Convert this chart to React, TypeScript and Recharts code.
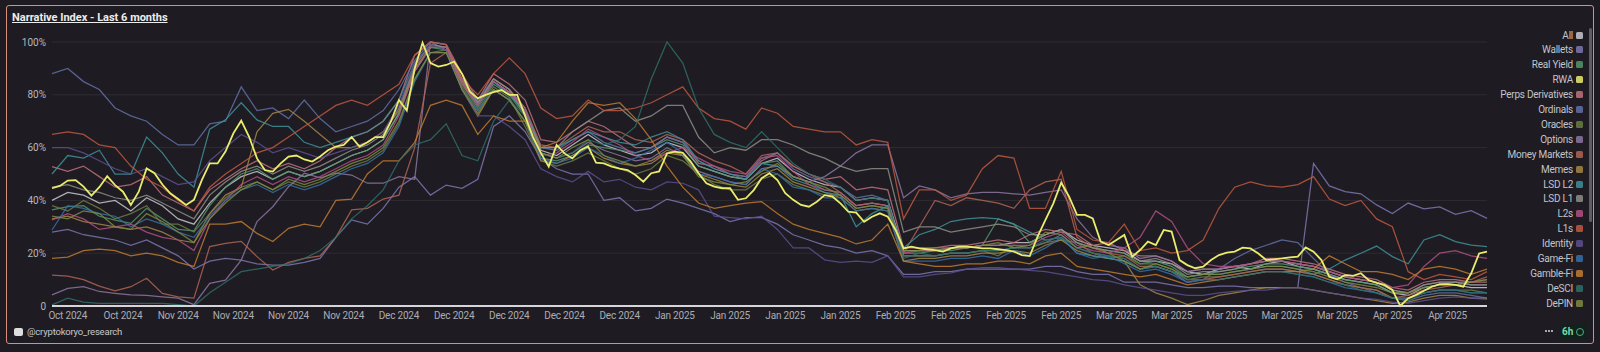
import React from "react";
import { LineChart, Line, XAxis, YAxis, CartesianGrid } from "recharts";

// x positions: day index counted from 18 Oct 2024 (day 0) to 18 Apr 2025 (day 182)
const tickDays = [2, 9, 16, 23, 30, 37, 44, 51, 58, 65, 72, 79, 86, 93, 100, 107, 114, 121, 128, 135, 142, 149, 156, 163, 170, 177];
const tickLabels = [
  "Oct 2024", "Oct 2024", "Nov 2024", "Nov 2024", "Nov 2024", "Nov 2024",
  "Dec 2024", "Dec 2024", "Dec 2024", "Dec 2024", "Dec 2024",
  "Jan 2025", "Jan 2025", "Jan 2025", "Jan 2025",
  "Feb 2025", "Feb 2025", "Feb 2025", "Feb 2025",
  "Mar 2025", "Mar 2025", "Mar 2025", "Mar 2025", "Mar 2025",
  "Apr 2025", "Apr 2025",
];
const yTicks = [0, 20, 40, 60, 80, 100];

// RWA: one value per day (day 0..182)
const rwa = [
  44.6, 45.5, 47.5, 47.7, 45.2, 41.8, 45, 49.2, 45.8, 43.3,
  38.3, 43.3, 52.1, 50.3, 46, 42.7, 40.5, 38.3, 40.2, 47.7,
  54, 54, 58.5, 65.4, 70.2, 64.1, 55.9, 51.5, 50.9, 54,
  56.6, 57, 55.5, 54.7, 56.6, 59, 60.4, 61, 64, 60.4,
  62, 64, 64, 70, 78, 74, 90, 99.7, 92, 90.7,
  91.3, 92.6, 88, 81.2, 78.7, 80, 81, 81.8, 80, 80,
  72, 64, 58, 52.8, 61, 57.8, 55.9, 59, 60.4, 54.3,
  54, 52.8, 52, 51.5, 49.6, 47.1, 50.3, 51, 57.8, 58.5,
  58, 54.7, 50.3, 46.5, 45.2, 44.6, 44.6, 40.2, 40.8, 43.9,
  48.4, 50.3, 47.7, 42.7, 40.2, 38.3, 37.6, 39.5, 42, 41.4,
  38.9, 35.7, 35.4, 31.9, 33.8, 35.1, 33.8, 28.8, 21.8, 22.5,
  21.8, 21.5, 21.2, 20.6, 21.8, 22.5, 22.5, 22.2, 21.8, 21.8,
  21.5, 21.2, 20.6, 19.3, 18.9, 26.3, 32.6, 38.9, 46.7, 41.4,
  34.5, 34.5, 33.2, 24.4, 23.1, 25, 26.9, 18.7, 21.2, 24.4,
  23.1, 28.8, 28.2, 17.4, 15.5, 14.3, 14.9, 17.4, 19.3, 20.2,
  20.6, 22.1, 21.8, 19.9, 17.4, 17.7, 18, 18.4, 18.7, 22.2,
  20.6, 17.4, 11.1, 10.1, 11.7, 11.4, 12.4, 9.8, 8.8, 8,
  6.1, 0, 2.9, 4.2, 5.8, 7.3, 8.3, 8.3, 8, 7.3,
  12.4, 19.9, 20.6,
];

// Other narratives: one value every 2 days (day 0, 2, ..., 182)
const allVals = [
  40, 43, 42, 39, 40, 36, 41, 38, 33, 31,
  39, 45, 49, 51, 48, 51, 49, 51, 54, 57,
  59, 63, 73, 89, 98, 98, 85, 76, 85, 81,
  73, 59, 57, 61, 65, 61, 59, 57, 58, 62,
  60, 53, 51, 49, 48, 54, 56, 51, 48, 46,
  45, 40, 41, 40, 21, 21, 21, 22, 22, 23,
  23, 24, 24, 27, 29, 25, 23, 22, 21, 17,
  17, 16, 13, 12, 14, 15, 14, 16, 17, 15,
  14, 12, 10, 9, 8, 5, 4, 7, 8, 8,
  7, 7,
];
const wallets = [
  28, 29, 27, 26, 25, 23, 25, 22, 19, 14,
  17, 18, 17.4, 16, 15.5, 15.5, 16.5, 18, 26, 32.6,
  31, 37, 45, 49, 42, 45.8, 44.6, 48, 68, 72,
  66, 56, 52, 50, 50, 40, 41, 36, 37, 40.5,
  39, 37, 35, 32, 33.5, 33.5, 31, 27, 25, 23,
  22, 20, 21, 19, 12, 12, 13, 13, 14, 14,
  14, 14, 14, 15, 15, 13, 12, 12, 9, 9,
  9, 8, 7, 7, 7.5, 7.5, 7, 7, 7, 7,
  54, 45.5, 43.3, 42.5, 38.3, 35, 39, 36.8, 37.5, 34.7,
  36.1, 33.2,
];
const realYield = [
  36.4, 37.6, 38, 34, 32.5, 31.3, 37, 33, 29, 28.5,
  38, 45, 50, 52, 48, 51, 49, 51, 54, 57,
  59, 63, 73, 89, 98, 97, 84, 75, 84, 80,
  72, 56, 55, 57, 61, 60, 59, 58, 60, 63,
  61, 53, 51, 49, 48, 54, 55, 49, 47, 44,
  43, 38, 39, 38, 20, 20, 21, 21, 22, 23,
  33, 31, 24, 27, 29, 24, 22, 21, 20, 16,
  17, 15, 11, 12, 13, 14, 15, 16, 16, 15,
  14, 12, 10, 9, 8, 5, 5, 7, 8, 9,
  9, 10,
];
const perps = [
  52.8, 51, 53, 49, 45, 46, 49, 42, 39, 36,
  44, 48, 52, 55, 52, 54, 52, 55, 60, 64,
  66, 70, 78, 95, 100, 99, 88, 78, 88, 84,
  78, 63, 62, 66, 70, 68, 64, 60, 60, 64,
  62, 54, 53, 50, 49, 55, 58, 53, 50, 48,
  49, 44, 45, 44, 22, 22, 22, 23, 23, 24,
  25, 24, 27, 29, 28, 27, 23, 24, 21, 19,
  19, 17, 13, 14, 14, 15, 16, 18, 18, 17,
  16, 14, 12, 11, 10, 7, 6, 9, 10, 10,
  9, 9,
];
const ordinals = [
  88, 90, 85, 82, 75, 72, 70, 65, 61, 61,
  69, 70, 83, 74, 75, 71, 78, 71, 66, 68,
  70, 74, 82, 93, 100, 99, 86, 78, 86, 82,
  75, 60, 59, 63, 66, 62, 60, 58, 60, 64,
  62, 55, 52, 50, 49, 56, 58, 52, 49, 47,
  45, 41, 42, 40, 19, 19, 19, 20, 20, 21,
  21, 22, 22, 24, 27, 22, 20, 19, 18, 14,
  15, 13, 9, 10, 14, 18, 21, 23, 25, 24,
  18, 12, 9, 7, 5, 3, 2, 4, 5, 5,
  4, 3,
];
const oracles = [
  38, 36, 40, 37, 33, 35, 38, 31, 31, 28,
  35, 41, 45, 47, 44, 47, 45, 47, 50, 53,
  55, 59, 69, 86, 96, 97, 83, 74, 83, 79,
  68, 55, 53, 55, 58, 55, 52, 50, 52, 57,
  55, 50, 46, 44, 44, 48, 50, 46, 44, 42,
  42, 37, 38, 37, 19, 19, 19, 20, 20, 21,
  19, 23, 22, 24, 25, 24, 20, 18, 19, 16,
  16, 14, 10, 11, 11, 12, 13, 14, 14, 13,
  12, 10, 8, 7, 6, 3, 3, 5, 6, 6,
  6, 5,
];
const options = [
  4.2, 6.7, 7.3, 5.5, 4.8, 4.2, 4, 3.5, 3, 0.5,
  8.6, 9.8, 17.4, 32, 37.6, 45.2, 50.3, 48.5, 50.3, 49.6,
  46.5, 46.5, 49, 48, 100, 97, 85, 77, 85, 81,
  74, 58, 56, 58, 62, 59, 57, 55, 56, 60,
  57, 51, 49, 47, 46, 52, 53, 49, 47, 49,
  53, 58, 61, 61, 41, 45.5, 44, 41, 42.5, 43,
  43, 42.5, 42, 43, 44, 33, 26, 23, 22, 18,
  19, 17, 13, 14, 14, 15, 16, 17, 17, 16,
  15, 13, 11, 10, 9, 6, 5, 8, 9, 9,
  8, 8,
];
const moneyMarkets = [
  11.7, 11.3, 10, 7.5, 5.7, 7.3, 10.5, 4.8, 3.5, 3,
  22.5, 23.7, 24.5, 18.7, 13.6, 16.5, 18, 19, 26, 36.4,
  37, 40.5, 42, 60, 92, 96, 84, 76, 86, 82,
  75, 61, 60, 64, 68, 66, 66, 63, 62, 65,
  63, 58, 55, 53, 50, 57, 58, 53, 50, 47,
  43, 38, 39, 38, 20, 30, 40, 38, 41, 40,
  39, 37, 44, 47, 48, 26, 22, 20, 19, 15,
  15, 13, 10, 10, 11, 12, 13, 14, 14, 13,
  12, 10, 8, 7, 6, 3, 4, 6, 7, 8,
  9, 11,
];
const memes = [
  33, 34, 32, 31, 30, 29, 30, 28, 25, 24,
  35, 42, 45, 66, 73, 74.5, 70, 65, 60, 60,
  62, 66, 74, 90, 98, 98, 82, 72, 82, 78,
  70, 55, 54, 57, 60, 56, 54, 53, 54, 58,
  57, 50, 48, 46, 45, 50, 52, 47, 45, 43,
  41, 36, 37, 36, 17, 18, 18, 19, 19, 20,
  20, 21, 20, 23, 25, 21, 19, 18, 17, 8,
  5, 3, 0.5, 2, 4, 5, 6, 7, 7, 7,
  6, 5, 4, 3, 2, 1, 1.5, 3, 4, 4,
  3, 3,
];
const lsdL2 = [
  50, 57, 56, 59, 50, 50, 64, 58, 50, 45,
  67, 70.5, 77, 70.5, 68, 68, 62, 60, 62, 64,
  66, 70, 78, 92, 99, 98, 86, 76, 85, 80,
  74, 60, 60, 63, 66, 64, 62, 61, 64, 66,
  63, 55, 52, 50, 48, 54, 53, 48, 46, 43,
  42, 30, 35, 38, 22, 27, 29, 32, 33, 33.5,
  33, 31, 28, 25, 26, 20, 19, 18, 17, 14,
  15, 13, 11, 12, 12, 13, 14, 15, 15, 14,
  12, 14, 17.4, 20, 22.7, 18.7, 16, 25, 27, 24.4,
  23.1, 22.5,
];
const lsdL1 = [
  45, 46, 44, 43, 41, 40, 42, 39, 36, 33,
  42, 47, 51, 53, 50, 53, 51, 53, 56, 59,
  61, 65, 75, 91, 99, 98, 86, 77, 86, 82,
  73, 60, 60, 66, 70, 74, 75, 70, 72, 76,
  76, 64, 58, 60, 59, 63, 63, 61, 58, 56,
  53, 51, 52, 52, 28, 30, 30, 28, 29, 30,
  31, 30, 27, 27, 29, 24, 22, 21, 20, 17,
  18, 16, 12, 13, 13, 14, 16, 17, 17, 16,
  15, 13, 11, 10, 9, 6, 5, 8, 9, 9,
  8, 8,
];
const l2s = [
  32.6, 35, 33, 29, 30, 31, 28, 26, 25, 21,
  33, 40, 46, 49, 46, 49, 47, 49, 52, 55,
  57, 61, 72, 89, 98, 98, 85, 76, 85, 81,
  74, 57, 58, 62, 67, 64, 61, 57, 55, 58,
  60, 56, 53, 51, 50, 56, 57, 51, 46, 44,
  43, 38, 39, 38, 20, 21, 21, 22, 22, 23,
  23, 23, 23, 26, 28, 23, 21, 20, 22, 26,
  36, 32, 22, 16, 15, 15, 16, 17, 17, 16,
  15, 13, 11, 10, 9, 7, 8, 15, 20, 21,
  19, 18,
];
const l1s = [
  65, 66, 65, 61, 60, 53, 48, 45, 40, 36,
  45, 50, 54, 58, 60, 64, 68, 72, 76, 78,
  76, 80, 84, 95, 100, 99, 86, 80, 88, 94,
  88, 75, 71, 72, 78, 74, 74, 75, 77, 80,
  83, 75, 71, 70, 67, 75, 73, 68, 67, 66,
  66, 61, 63, 62, 33, 44, 44, 40, 42, 52,
  57, 56, 37, 37, 51, 29, 25, 24, 31, 21,
  22, 20, 21, 25, 37, 45, 47, 45.5, 45, 46,
  49, 40.5, 38, 40, 33, 30, 13, 10, 12, 11,
  10, 13,
];
const identity = [
  60, 60, 58, 55, 52, 50, 52, 49, 46, 47,
  55, 60, 65, 62, 58, 60, 58, 56, 58, 60,
  62, 66, 76, 92, 99, 97, 82, 72, 72, 68,
  63, 52, 49, 47, 51, 47, 48, 45, 44, 47,
  46.5, 44, 34, 33.5, 33, 34, 29, 22, 22, 17.5,
  16.5, 17, 16.5, 19, 11, 11, 12, 12.5, 14, 14.5,
  14.5, 14, 13.5, 13, 12, 11, 10, 9.5, 8, 7,
  6, 5, 4, 4, 5, 5.5, 6, 6, 7, 7,
  6, 5, 4, 3, 2.5, 1.5, 1, 2, 3, 3.5,
  3, 2.5,
];
const gameFi = [
  28.8, 38, 37, 35, 34, 30, 33, 31, 28, 26,
  34, 40, 44, 46, 43, 46, 44, 46, 49, 52,
  54, 58, 68, 85, 96, 96, 82, 74, 82, 78,
  70, 56, 54, 56, 60, 57, 54, 56, 59, 62,
  58, 50, 49, 47, 46, 52, 50, 45, 44, 41,
  41, 36, 37, 36, 17, 17, 17, 18, 18, 19,
  18, 21, 19, 22, 26, 20, 18, 19, 16, 13,
  14, 12, 9, 10, 10, 11, 12, 13, 13, 12,
  11, 9, 7, 6, 5, 3, 3, 5, 6, 6,
  5, 5,
];
const gambleFi = [
  18, 18.5, 21, 21.5, 21, 19, 20, 19, 16.5, 15,
  31, 31, 32, 27.5, 24.4, 29.4, 31, 30, 40, 40.5,
  50, 55, 55, 62, 76, 78, 76, 65, 72, 70,
  70, 60, 62, 70, 77, 76, 77, 71, 63, 53,
  45, 39, 37, 38, 39, 39.5, 35, 31, 29, 27.5,
  26, 23.5, 25, 31, 17, 16, 15, 15, 16, 16,
  17, 17, 16, 19, 20, 15, 14, 13, 12, 11,
  12, 10, 8, 9, 10, 11, 12, 13, 13, 13,
  14, 19, 16, 13, 13, 12, 10, 14, 15, 14,
  12, 14,
];
const deSci = [
  0.4, 3, 1.5, 1, 1, 1, 1, 1, 0.5, 0,
  5, 9, 13, 14, 15, 16, 18, 21, 26, 33,
  38, 44, 55, 61, 63, 69, 57, 55, 70, 78,
  72, 58, 56, 58, 63, 61, 63, 68, 86, 100,
  92, 75, 65, 62, 60, 66, 60, 54, 50, 48,
  45, 40, 41, 40, 18, 20, 19, 20, 20, 21,
  21, 22, 22, 25, 26, 22, 20, 19, 18, 14,
  15, 13, 10, 10, 10, 11, 12, 13, 13, 12,
  11, 9, 8, 6, 5, 3, 2, 5, 6, 6,
  5, 5,
];
const dePin = [
  34, 33, 36, 35, 30, 29, 35, 32, 28, 24,
  33, 39, 44, 47, 44, 48, 46, 48, 51, 54,
  56, 60, 70, 86, 96, 96, 82, 73, 82, 78,
  70, 58, 56, 60, 63, 57, 55, 53, 55, 59,
  57, 49, 47, 46, 47, 51, 54, 49, 47, 45,
  42, 37, 38, 37, 21, 21, 22, 22, 22, 23,
  24, 22, 23, 28, 27, 22, 23, 20, 17, 14,
  16, 14, 11, 12, 12, 13, 14, 15, 15, 14,
  13, 11, 9, 8, 7, 5, 5, 7, 8, 8,
  9, 10,
];

const SERIES = [
  { name: "All", color: "#c9c7cf", values: allVals },
  { name: "Wallets", color: "#7d76b2", values: wallets },
  { name: "Real Yield", color: "#54946c", values: realYield },
  { name: "RWA", color: "#e9ec6c", values: null as number[] | null },
  { name: "Perps Derivatives", color: "#c0707c", values: perps },
  { name: "Ordinals", color: "#6070a6", values: ordinals },
  { name: "Oracles", color: "#6b7d44", values: oracles },
  { name: "Options", color: "#8c76a2", values: options },
  { name: "Money Markets", color: "#b06452", values: moneyMarkets },
  { name: "Memes", color: "#a48544", values: memes },
  { name: "LSD L2", color: "#3f9098", values: lsdL2 },
  { name: "LSD L1", color: "#8e8e86", values: lsdL1 },
  { name: "L2s", color: "#b24f82", values: l2s },
  { name: "L1s", color: "#c0583f", values: l1s },
  { name: "Identity", color: "#5c4f90", values: identity },
  { name: "Game-Fi", color: "#3470a8", values: gameFi },
  { name: "Gamble-Fi", color: "#c07a30", values: gambleFi },
  { name: "DeSCI", color: "#2f6e69", values: deSci },
  { name: "DePIN", color: "#7e8a40", values: dePin },
];

const rows = rwa.map((v, d) => {
  const row: Record<string, number> = { day: d, RWA: v };
  if (d % 2 === 0) {
    SERIES.forEach((s) => {
      if (s.values) row[s.name] = s.values[d / 2];
    });
  }
  return row;
});

const BG = "#1e1c22";
const FONT = "Roboto, Inter, 'DejaVu Sans', sans-serif";

export default function App() {
  const drawOrder = SERIES.filter((s) => s.values);
  return (
    <div
      style={{
        position: "fixed",
        left: 0,
        top: 0,
        width: 1600,
        height: 352,
        background: BG,
        overflow: "hidden",
        fontFamily: FONT,
      }}
    >
      <div
        style={{
          position: "absolute",
          left: 6,
          top: 5,
          width: 1588,
          height: 339,
          boxSizing: "border-box",
          border: "1.5px solid #d98f7b",
          borderRadius: 3,
        }}
      />
      <div
        style={{
          position: "absolute",
          left: 12,
          top: 11,
          fontSize: 11,
          fontWeight: 700,
          color: "#ededed",
          textDecoration: "underline",
          whiteSpace: "nowrap",
        }}
      >
        Narrative Index - Last 6 months
      </div>
      <div style={{ position: "absolute", left: 0, top: 0 }}>
        <LineChart
          width={1600}
          height={352}
          data={rows}
          margin={{ top: 42, right: 113, bottom: 16, left: 0 }}
          style={{ fontFamily: FONT }}
        >
          <CartesianGrid vertical={false} stroke="#2e2c33" />
          <XAxis
            dataKey="day"
            type="number"
            domain={[0, 182]}
            ticks={tickDays}
            interval={0}
            tickFormatter={(v: number) => tickLabels[tickDays.indexOf(v)]}
            axisLine={{ stroke: "#d6d6da", strokeWidth: 2 }}
            tickLine={false}
            tickSize={4}
            tickMargin={2}
            height={30}
            tick={{ fill: "#acacb4", fontSize: 10, letterSpacing: -0.2 }}
          />
          <YAxis
            domain={[0, 100]}
            ticks={yTicks}
            width={52}
            axisLine={false}
            tickLine={false}
            tickSize={4}
            tickMargin={2}
            tick={{ fill: "#b6b6bd", fontSize: 10 }}
            tickFormatter={(v: number) => (v === 0 ? "0" : `${v}%`)}
          />
          {drawOrder.map((s) => (
            <Line
              key={s.name}
              type="linear"
              dataKey={s.name}
              stroke={s.color}
              strokeWidth={1.25}
              strokeOpacity={0.85}
              dot={false}
              activeDot={false}
              connectNulls
              isAnimationActive={false}
            />
          ))}
          <Line
            type="linear"
            dataKey="RWA"
            stroke="#e9ec6c"
            strokeWidth={1.8}
            dot={false}
            activeDot={false}
            isAnimationActive={false}
          />
        </LineChart>
      </div>

      {/* legend */}
      {SERIES.map((s, i) => (
        <div
          key={s.name}
          style={{
            position: "absolute",
            right: 17,
            top: 35 + i * 14.9 - 7,
            height: 14,
            display: "flex",
            alignItems: "center",
            gap: 3,
            fontSize: 10,
            letterSpacing: -0.25,
            color: "#c3c3ca",
            whiteSpace: "nowrap",
          }}
        >
          <span>{s.name}</span>
          <span
            style={{
              display: "inline-block",
              width: 7,
              height: 7,
              borderRadius: 1.5,
              background: s.color,
              opacity: 0.85,
            }}
          />
        </div>
      ))}
      <div
        style={{
          position: "absolute",
          left: 1589,
          top: 28,
          width: 3,
          height: 194,
          borderRadius: 2,
          background: "#5f5d64",
        }}
      />

      {/* watermark */}
      <div
        style={{
          position: "absolute",
          left: 14,
          top: 328,
          width: 9,
          height: 8,
          borderRadius: 2,
          background: "#dedede",
        }}
      />
      <div
        style={{
          position: "absolute",
          left: 27,
          top: 326,
          fontSize: 9.5,
          letterSpacing: -0.2,
          color: "#c8c8cc",
          whiteSpace: "nowrap",
        }}
      >
        @cryptokoryo_research
      </div>

      {/* bottom-right controls */}
      {[0, 1, 2].map((k) => (
        <div
          key={k}
          style={{
            position: "absolute",
            left: 1545 + k * 3,
            top: 330,
            width: 2,
            height: 2,
            borderRadius: 1,
            background: "#d4d4d8",
          }}
        />
      ))}
      <div
        style={{
          position: "absolute",
          left: 1559,
          top: 324,
          width: 28,
          height: 15,
          borderRadius: 3,
          background: "#13211d",
          display: "flex",
          alignItems: "center",
          paddingLeft: 3,
          boxSizing: "border-box",
          gap: 3,
        }}
      >
        <span style={{ fontSize: 10, fontWeight: 700, color: "#74d9ae" }}>6h</span>
        <span
          style={{
            display: "inline-block",
            width: 6,
            height: 6,
            borderRadius: "50%",
            border: "1.5px solid #4faf88",
          }}
        />
      </div>
    </div>
  );
}
